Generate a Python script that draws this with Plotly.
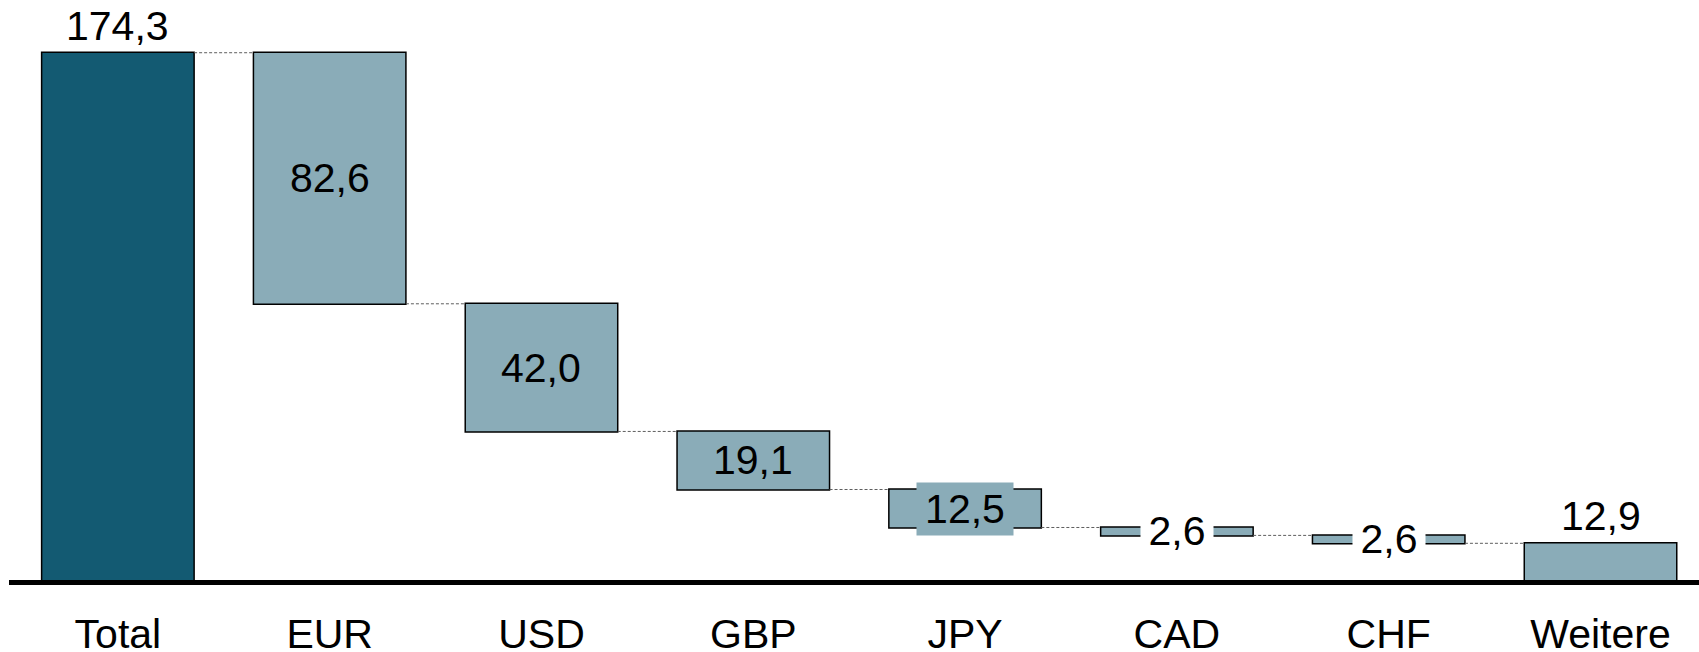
import plotly.graph_objects as go

# Currency breakdown of a total, in billions
categories = ["Total", "EUR", "USD", "GBP", "JPY", "CAD", "CHF", "Weitere"]
values = [174.3, 82.6, 42.0, 19.1, 12.5, 2.6, 2.6, 12.9]

TOTAL_COLOR = "#135A72"
PART_COLOR = "#8AACB8"
FONT = "Liberation Sans, Arial, sans-serif"
FSIZE = 41

x = list(range(len(categories)))
measures = ["absolute"] + ["relative"] * (len(values) - 1)
steps = [values[0]] + [-v for v in values[1:]]


def fmt(v):
    return f"{v:.1f}".replace(".", ",")


# running level before/after each bar
tops, bottoms = [], []
level = 0.0
for m, s in zip(measures, steps):
    if m == "absolute":
        tops.append(s)
        bottoms.append(0.0)
        level = s
    else:
        tops.append(level)
        level = level + s
        bottoms.append(level)

fig = go.Figure(
    go.Waterfall(
        x=x,
        y=steps,
        measure=measures,
        width=0.72,
        textposition="none",
        totals=dict(marker=dict(color=TOTAL_COLOR, line=dict(color="black", width=1.5))),
        decreasing=dict(marker=dict(color=PART_COLOR, line=dict(color="black", width=1.5))),
        increasing=dict(marker=dict(color=PART_COLOR, line=dict(color="black", width=1.5))),
        connector=dict(mode="between", line=dict(color="#5e5e5e", width=1, dash="3px,2px")),
        hoverinfo="skip",
    )
)

# value labels: above the first and last bar, centred on the others
above = {"Total", "Weitere"}
bar_box = {"JPY"}
white_box = {"CAD", "CHF"}
annotations = []
for i, (cat, v) in enumerate(zip(categories, values)):
    if cat in above:
        annotations.append(dict(x=i, y=tops[i], yanchor="bottom", yshift=2,
                                text=fmt(v), showarrow=False))
    else:
        mid = (tops[i] + bottoms[i]) / 2
        a = dict(x=i, y=mid, yanchor="middle", text=fmt(v), showarrow=False)
        if cat in bar_box:
            a.update(bgcolor=PART_COLOR, width=94, height=50)
        elif cat in white_box:
            a.update(bgcolor="white", width=70, height=46)
        annotations.append(a)

for a in annotations:
    a["font"] = dict(family=FONT, size=FSIZE, color="black")

fig.update_layout(
    width=1699,
    height=652,
    margin=dict(l=9, r=0, t=0, b=67),
    paper_bgcolor="white",
    plot_bgcolor="white",
    showlegend=False,
    annotations=annotations,
    shapes=[dict(type="line", xref="paper", yref="y", x0=0, x1=1, y0=0, y1=0,
                 line=dict(color="black", width=5), layer="above")],
    xaxis=dict(
        range=[-0.514, 7.465],
        tickvals=x,
        ticktext=categories,
        tickfont=dict(family=FONT, size=FSIZE, color="black"),
        showgrid=False,
        zeroline=False,
        showline=False,
        ticks="",
        ticklabelstandoff=21,
        automargin=False,
    ),
    yaxis=dict(
        range=[-0.82, 191.65],
        visible=False,
        showgrid=False,
        zeroline=False,
        automargin=False,
    ),
)

fig.write_html("out.html")
